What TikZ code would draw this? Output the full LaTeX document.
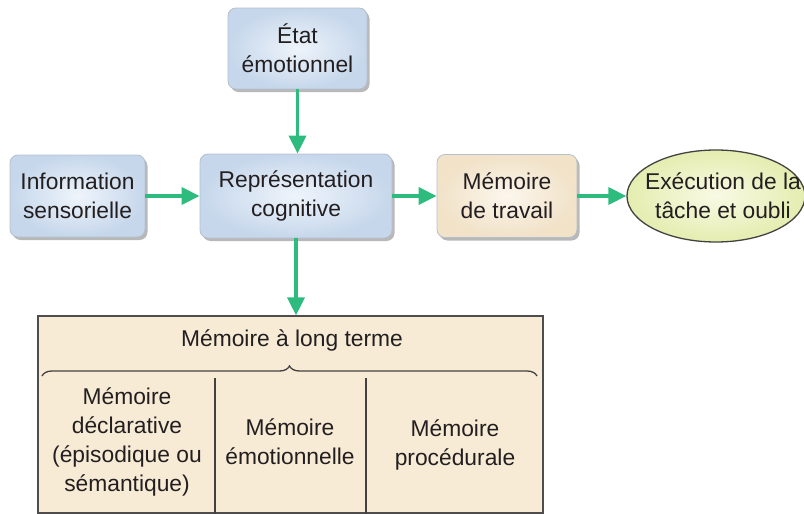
\documentclass[tikz,border=0pt]{standalone}
\usepackage{fontspec}
\setmainfont{Liberation Sans}
\usetikzlibrary{arrows.meta,shapes.geometric,shadows,decorations.pathreplacing}
\definecolor{ink}{HTML}{231F20}
\definecolor{blueIn}{HTML}{EEF4FB}
\definecolor{blueOut}{HTML}{C6D7EB}
\definecolor{beigeIn}{HTML}{FCF6EC}
\definecolor{beigeOut}{HTML}{F1E2C8}
\definecolor{ltmfill}{HTML}{F8EBD6}
\definecolor{ellIn}{HTML}{F8FAE4}
\definecolor{ellOut}{HTML}{E4EDB0}
\definecolor{bordergray}{HTML}{B4C0CC}
\definecolor{arrowgreen}{HTML}{2DBB7E}
\begin{document}
\begin{tikzpicture}[x=1pt,y=-1pt,
  txt/.style={font=\fontsize{22.8}{29}\selectfont, text=ink, align=center},
  softshadow/.style={drop shadow={shadow xshift=2.5pt, shadow yshift=-3pt, fill=black, opacity=0.28}},
  bluebox/.style={txt, rounded corners=8pt, draw=bordergray, line width=0.8pt,
    inner color=blueIn, outer color=blueOut, softshadow},
  beigebox/.style={txt, rounded corners=8pt, draw=bordergray, line width=0.8pt,
    inner color=beigeIn, outer color=beigeOut, softshadow},
  ellnode/.style={ellipse, draw=ink!85, line width=1.3pt, inner color=ellIn, outer color=ellOut, inner sep=0pt},
  ltmbox/.style={draw=ink!80, line width=1.2pt, fill=ltmfill},
  arr/.style={draw=arrowgreen, line width=3.5pt, -{Triangle[length=18pt,width=17pt]}},
  divline/.style={draw=ink!85, line width=1.2pt}
]
\useasboundingbox (0,0) rectangle (804,514);
\clip (0,0) rectangle (804,514);

\node[bluebox, minimum width=139pt, minimum height=81pt] (etat) at (297.5,48.5) {État\\émotionnel};
\node[bluebox, minimum width=135pt, minimum height=82pt] (info) at (77.5,196) {Information\\sensorielle};
\node[bluebox, minimum width=192pt, minimum height=84pt] (rep) at (296,196) {Représentation\\cognitive};
\node[beigebox, minimum width=140pt, minimum height=83pt] (mdt) at (507,196) {Mémoire\\de travail};
\node[ellnode, minimum width=178pt, minimum height=92pt] (exec) at (716,196) {};
\node[txt] (exectxt) at (723,196) {Exécution de la\\tâche et oubli};

\node[ltmbox, minimum width=505pt, minimum height=197pt, inner sep=0pt] (ltm) at (290.5,414.5) {};
\node[txt] (ltmtitle) at (292,340) {Mémoire à long terme};

\draw[ink!85, line width=1.3pt, decorate, decoration={brace, amplitude=10pt}] (42,376) -- (537,376);

\coordinate (d1t) at (215,378);
\coordinate (d2t) at (366,378);
\draw[divline] (d1t) -- (d1t |- ltm.south);
\draw[divline] (d2t) -- (d2t |- ltm.south);

\node[txt] (col1) at (127,442) {Mémoire\\déclarative\\(épisodique ou\\sémantique)};
\node[txt] (col2) at (290,442) {Mémoire\\émotionnelle};
\node[txt] (col3) at (455,445) {Mémoire\\procédurale};

\draw[arr] (etat.south) -- (etat.south |- rep.north);
\draw[arr] (info.east) -- (rep.west);
\draw[arr] (rep.east) -- (mdt.west);
\draw[arr] (mdt.east) -- (exec.west);
\draw[arr] (rep.south) -- (rep.south |- ltm.north);
\end{tikzpicture}
\end{document}
